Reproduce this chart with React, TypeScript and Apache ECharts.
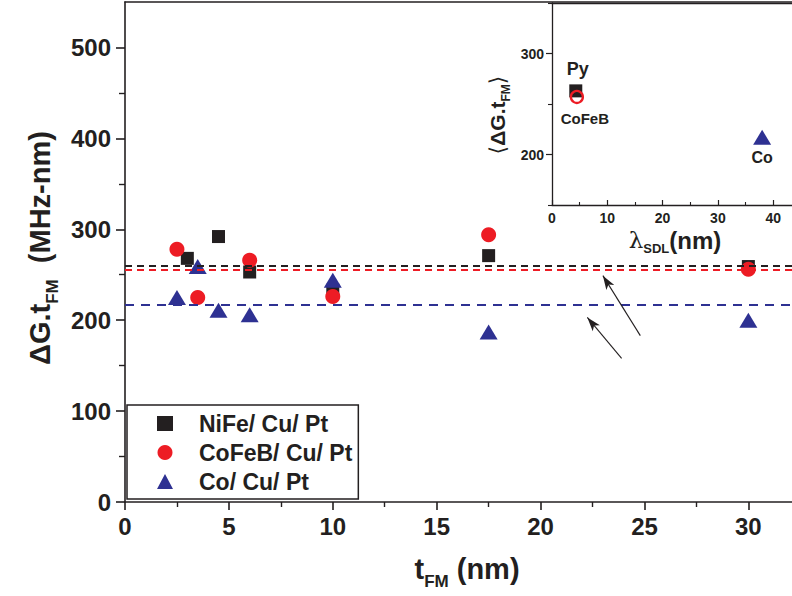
import React, { useEffect, useRef } from "react";
import * as echarts from "echarts";

const FONT = "'Liberation Sans', Arial, Helvetica, sans-serif";
const INK = "#231f20";
const RED = "#ed1c24";
const BLUE = "#2e3192";

// Main panel data (t_FM in nm, ΔG.t_FM in MHz-nm)
const seriesNames = ["NiFe/ Cu/ Pt", "CoFeB/ Cu/ Pt", "Co/ Cu/ Pt"];
const nifeX = [3, 4.5, 6, 10, 17.5, 30];
const nifeY = [268, 292, 253, 233, 271, 259];
const cofebX = [2.5, 3.5, 6, 10, 17.5, 30];
const cofebY = [278, 225, 266, 226, 294, 256];
const coX = [2.5, 3.5, 4.5, 6, 10, 17.5, 30];
const coY = [225, 259, 211, 206, 244, 187, 200];
const averages = [260, 255, 217];

const xTicks = [0, 5, 10, 15, 20, 25, 30];
const xMinorTicks = [2.5, 7.5, 12.5, 17.5, 22.5, 27.5];
const yTicks = [0, 100, 200, 300, 400, 500];
const yMinorTicks = [50, 150, 250, 350, 450];

// annotation arrows (tail -> head), in data units of the main panel
const arrowTails = [[24.8, 183], [23.9, 158]];
const arrowHeads = [[23.0, 249], [22.25, 203]];

// Inset data
const insetLabels = ["Py", "CoFeB", "Co"];
const insetLambda = [4.3, 4.5, 38];
const insetG = [263, 257, 217];
const insetXTicks = [0, 10, 20, 30, 40];
const insetXMinor = [5, 15, 25, 35];
const insetYTicks = [200, 300];
const insetYMinor = [150, 250, 350];

const zip = (xs: number[], ys: number[]) => xs.map((x, i) => [x, ys[i]]);

const lineSt = (w = 1.6) => ({ color: INK, width: w });

function axis(extra: any) {
  return {
    type: "value",
    splitLine: { show: false },
    axisLine: { show: false, onZero: false, lineStyle: lineSt() },
    axisTick: { show: false },
    axisLabel: { show: false },
    ...extra,
  };
}

export default function App() {
  const ref = useRef<HTMLDivElement>(null);
  useEffect(() => {
    if (!ref.current) return;
    const chart = echarts.init(ref.current, undefined, { renderer: "svg" });
    const tickLabel = (size: number, margin: number, values: number[]) => ({
      show: true,
      customValues: values,
      fontFamily: FONT,
      fontWeight: "bold",
      fontSize: size,
      color: INK,
      margin,
    });
    const txt = (size: number, extra: any = {}) => ({
      fontFamily: FONT, fontWeight: "bold", fontSize: size, fill: INK, color: INK, ...extra,
    });
    const option: any = {
      animation: false,
      backgroundColor: "#fff",
      grid: [
        { left: 125, top: 2, width: 667, height: 500 },
        { left: 552, top: 3, width: 240, height: 202, show: true, backgroundColor: "#fff", borderWidth: 0 },
      ],
      xAxis: [
        axis({
          gridIndex: 0, min: 0, max: 32.1, position: "bottom",
          axisLine: { show: true, onZero: false, lineStyle: lineSt(1.6) },
          axisTick: { show: true, customValues: xTicks, length: 8, lineStyle: lineSt(1.6) },
          axisLabel: tickLabel(24, 12, xTicks),
        }),
        axis({
          gridIndex: 0, min: 0, max: 32.1, position: "bottom",
          axisTick: { show: true, customValues: xMinorTicks, length: 5, lineStyle: lineSt(1.4) },
        }),
        axis({
          gridIndex: 0, min: 0, max: 32.1, position: "top",
          axisLine: { show: true, onZero: false, lineStyle: lineSt(1.6) },
        }),
        axis({
          gridIndex: 1, min: 0, max: 43.4, position: "bottom",
          axisLine: { show: true, onZero: false, lineStyle: lineSt(1.3) },
          axisTick: { show: true, inside: true, customValues: insetXTicks, length: 5, lineStyle: lineSt(1.2) },
          axisLabel: tickLabel(14, 6, insetXTicks),
        }),
        axis({
          gridIndex: 1, min: 0, max: 43.4, position: "bottom",
          axisTick: { show: true, inside: true, customValues: insetXMinor, length: 3, lineStyle: lineSt(1.1) },
        }),
        axis({
          gridIndex: 1, min: 0, max: 43.4, position: "top",
          axisLine: { show: true, onZero: false, lineStyle: lineSt(1.3) },
        }),
      ],
      yAxis: [
        axis({
          gridIndex: 0, min: 0, max: 550, position: "left",
          axisLine: { show: true, onZero: false, lineStyle: lineSt(1.6) },
          axisTick: { show: true, customValues: yTicks, length: 9, lineStyle: lineSt(1.6) },
          axisLabel: tickLabel(24, 14, yTicks),
        }),
        axis({
          gridIndex: 0, min: 0, max: 550, position: "left",
          axisTick: { show: true, customValues: yMinorTicks, length: 6, lineStyle: lineSt(1.4) },
        }),
        axis({
          gridIndex: 1, min: 150, max: 350, position: "left",
          axisLine: { show: true, onZero: false, lineStyle: lineSt(1.3) },
          axisTick: { show: true, customValues: insetYTicks, length: 6, lineStyle: lineSt(1.2) },
          axisLabel: tickLabel(14, 8, insetYTicks),
        }),
        axis({
          gridIndex: 1, min: 150, max: 350, position: "left",
          axisTick: { show: true, customValues: insetYMinor, length: 4, lineStyle: lineSt(1.1) },
        }),
      ],
      legend: {
        data: seriesNames,
        orient: "vertical",
        left: 127,
        top: 405,
        padding: [4, 6, 3, 30],
        itemGap: 0,
        itemWidth: 16,
        itemHeight: 15,
        borderColor: INK,
        borderWidth: 1.5,
        backgroundColor: "#fff",
        selectedMode: false,
        textStyle: {
          fontFamily: FONT,
          fontWeight: "bold",
          fontSize: 23,
          color: INK,
          lineHeight: 29,
          padding: [0, 0, 0, 21],
        },
      },
      series: [
        {
          name: seriesNames[0], type: "scatter", xAxisIndex: 0, yAxisIndex: 0,
          symbol: "rect", symbolSize: 13, itemStyle: { color: INK, opacity: 1 },
          data: zip(nifeX, nifeY),
          markLine: {
            silent: true, symbol: "none", label: { show: false },
            lineStyle: { color: INK, type: [7, 5], width: 1.8, opacity: 1 },
            data: [{ yAxis: averages[0] }],
          },
        },
        {
          name: seriesNames[1], type: "scatter", xAxisIndex: 0, yAxisIndex: 0,
          symbol: "circle", symbolSize: 15, itemStyle: { color: RED, opacity: 1 },
          data: zip(cofebX, cofebY),
          markLine: {
            silent: true, symbol: "none", label: { show: false },
            lineStyle: { color: RED, type: [7, 5], width: 1.8, opacity: 1 },
            data: [{ yAxis: averages[1] }],
          },
        },
        {
          name: seriesNames[2], type: "scatter", xAxisIndex: 0, yAxisIndex: 0,
          symbol: "triangle", symbolSize: [18, 15], itemStyle: { color: BLUE, opacity: 1 },
          data: zip(coX, coY),
          markLine: {
            silent: true, symbol: "none", label: { show: false },
            lineStyle: { color: BLUE, type: [9, 7], width: 1.8, opacity: 1 },
            data: [{ yAxis: averages[2] }],
          },
        },
        {
          name: "arrows", type: "line", xAxisIndex: 0, yAxisIndex: 0, data: [],
          markLine: {
            silent: true, symbol: ["none", "arrow"], symbolSize: [7, 14],
            label: { show: false },
            lineStyle: { color: INK, type: "solid", width: 1.1, opacity: 1 },
            data: arrowTails.map((t, i) => [{ coord: t }, { coord: arrowHeads[i] }]),
          },
        },
        {
          name: insetLabels[0], type: "scatter", xAxisIndex: 3, yAxisIndex: 2,
          symbol: "rect", symbolSize: 13, itemStyle: { color: INK, opacity: 1 },
          data: [[insetLambda[0], insetG[0]]],
          label: {
            show: true, position: "top", distance: 6, formatter: insetLabels[0],
            fontFamily: FONT, fontWeight: "bold", fontSize: 18, color: INK, offset: [2, 0],
          },
        },
        {
          name: insetLabels[1], type: "scatter", xAxisIndex: 3, yAxisIndex: 2,
          symbol: "circle", symbolSize: 12,
          itemStyle: { color: "transparent", borderColor: RED, borderWidth: 2.3, opacity: 1 },
          data: [[insetLambda[1], insetG[1]]],
          label: {
            show: true, position: "bottom", distance: 7, formatter: insetLabels[1],
            fontFamily: FONT, fontWeight: "bold", fontSize: 15, color: INK, offset: [8, 0],
          },
        },
        {
          name: insetLabels[2], type: "scatter", xAxisIndex: 3, yAxisIndex: 2,
          symbol: "triangle", symbolSize: [18, 15], itemStyle: { color: BLUE, opacity: 1 },
          data: [[insetLambda[2], insetG[2]]],
          label: {
            show: true, position: "bottom", distance: 5, formatter: insetLabels[2],
            fontFamily: FONT, fontWeight: "bold", fontSize: 16, color: INK,
          },
        },
      ],
      graphic: [
        {
          type: "text", x: 40, y: 248, rotation: Math.PI / 2,
          style: {
            text: "{a|ΔG.t}{s|FM}{a|  (MHz-nm)}",
            align: "center", verticalAlign: "middle",
            rich: {
              a: txt(29),
              s: txt(17, { padding: [24, 0, 0, 0] }),
            },
          },
        },
        {
          type: "text", x: 467, y: 569,
          style: {
            text: "{a|t}{s|FM}{a| (nm)}",
            align: "center", verticalAlign: "middle",
            rich: {
              a: txt(29),
              s: txt(17, { padding: [24, 0, 0, 0] }),
            },
          },
        },
        {
          type: "text", x: 497, y: 115, rotation: Math.PI / 2,
          style: {
            text: "{b|⟨}{a|ΔG.t}{s|FM}{b|⟩}",
            align: "center", verticalAlign: "middle",
            rich: {
              a: txt(21),
              b: { fontFamily: "'DejaVu Sans', sans-serif", fontSize: 22, fill: INK, color: INK },
              s: txt(12, { padding: [17, 0, 0, 0] }),
            },
          },
        },
        {
          type: "text", x: 675, y: 240,
          style: {
            text: "{l|λ}{s|SDL}{a|(nm)}",
            align: "center", verticalAlign: "middle",
            rich: {
              l: { fontFamily: "'DejaVu Serif', serif", fontSize: 23, fill: INK, color: INK },
              a: txt(24),
              s: txt(13, { padding: [16, 0, 0, 0] }),
            },
          },
        },
      ],
    };
    chart.setOption(option);
    return () => chart.dispose();
  }, []);
  return (
    <div
      ref={ref}
      style={{ position: "fixed", left: 0, top: 0, width: 792, height: 596, background: "#fff" }}
    />
  );
}
